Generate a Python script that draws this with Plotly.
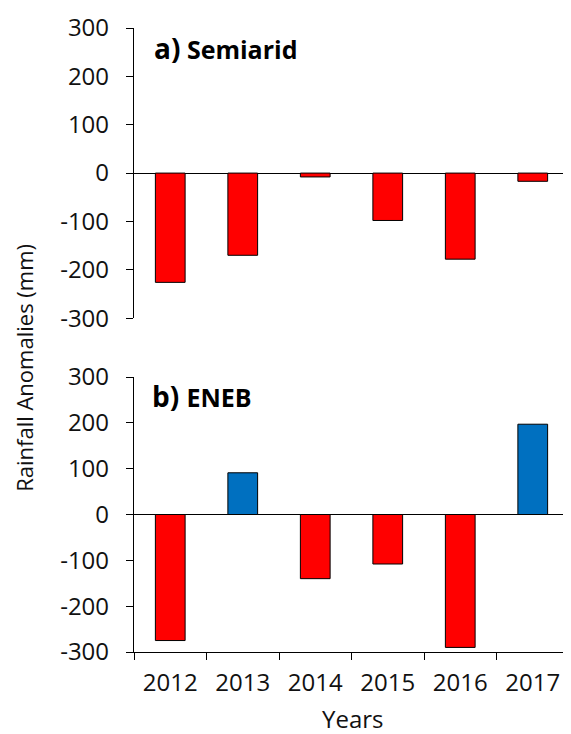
import plotly.graph_objects as go
from plotly.subplots import make_subplots

years = ["2012", "2013", "2014", "2015", "2016", "2017"]
semiarid = [-226, -170, -8, -98, -178, -17]
eneb = [-275, 91, -140, -108, -290, 197]
y_ticks = [-300, -200, -100, 0, 100, 200, 300]

RED = "#FF0000"
BLUE = "#0070C0"
FONT = "Open Sans"

def colors(vals):
    return [BLUE if v > 0 else RED for v in vals]

fig = make_subplots(rows=2, cols=1, shared_xaxes=False, vertical_spacing=0.09)

fig.add_trace(go.Bar(x=years, y=semiarid, marker=dict(color=colors(semiarid), line=dict(color="black", width=1)),
                     width=0.41, showlegend=False), row=1, col=1)
fig.add_trace(go.Bar(x=years, y=eneb, marker=dict(color=colors(eneb), line=dict(color="black", width=1)),
                     width=0.41, showlegend=False), row=2, col=1)

yax = dict(range=[-300, 300], tickvals=y_ticks, ticktext=[str(v) for v in y_ticks],
           showgrid=False, showline=True, linecolor="black", linewidth=1.3,
           ticks="outside", ticklen=7, tickcolor="black", tickwidth=1.3,
           ticklabelstandoff=12,
           zeroline=True, zerolinecolor="black", zerolinewidth=1.2,
           tickfont=dict(family=FONT, size=24, color="#111"))

fig.update_layout(
    width=563, height=726,
    margin=dict(l=126, r=2, t=17, b=82),
    plot_bgcolor="white", paper_bgcolor="white",
    bargap=0.59,
    yaxis=dict(domain=[0.535, 1.0], **yax),
    yaxis2=dict(domain=[0.0, 0.4407], **yax),
    xaxis=dict(showticklabels=False, showline=False, ticks="", showgrid=False, zeroline=False,
               type="category"),
    xaxis2=dict(type="category", showline=True, linecolor="black", linewidth=1.3,
                ticks="outside", tickson="boundaries", ticklen=7, tickcolor="black", tickwidth=1.3,
                ticklabelstandoff=9,
                showgrid=False, tickfont=dict(family=FONT, size=24, color="#111")),
    font=dict(family=FONT, color="#111"),
)

fig.add_annotation(text="Years", xref="paper", yref="paper", x=0.502, y=-0.107,
                   showarrow=False, xanchor="center", yanchor="middle",
                   font=dict(family=FONT, size=24, color="#111"))

fig.add_annotation(text="Rainfall Anomalies (mm)", xref="paper", yref="paper", x=-0.252, y=0.456,
                   textangle=-90, showarrow=False, xanchor="center", yanchor="middle",
                   font=dict(family=FONT, size=22, color="#111"))

fig.add_annotation(text="<b>a)</b><span style='font-size:25px'><b> Semiarid</b></span>",
                   xref="paper", yref="paper", x=0.041, y=0.968, xanchor="left", yanchor="middle",
                   showarrow=False, font=dict(family=FONT, size=28, color="black"))
fig.add_annotation(text="<b>b) </b><span style='font-size:25px'><b>ENEB</b></span>",
                   xref="paper", yref="paper", x=0.037, y=0.41, xanchor="left", yanchor="middle",
                   showarrow=False, font=dict(family=FONT, size=28, color="black"))

fig.write_html("out.html")
